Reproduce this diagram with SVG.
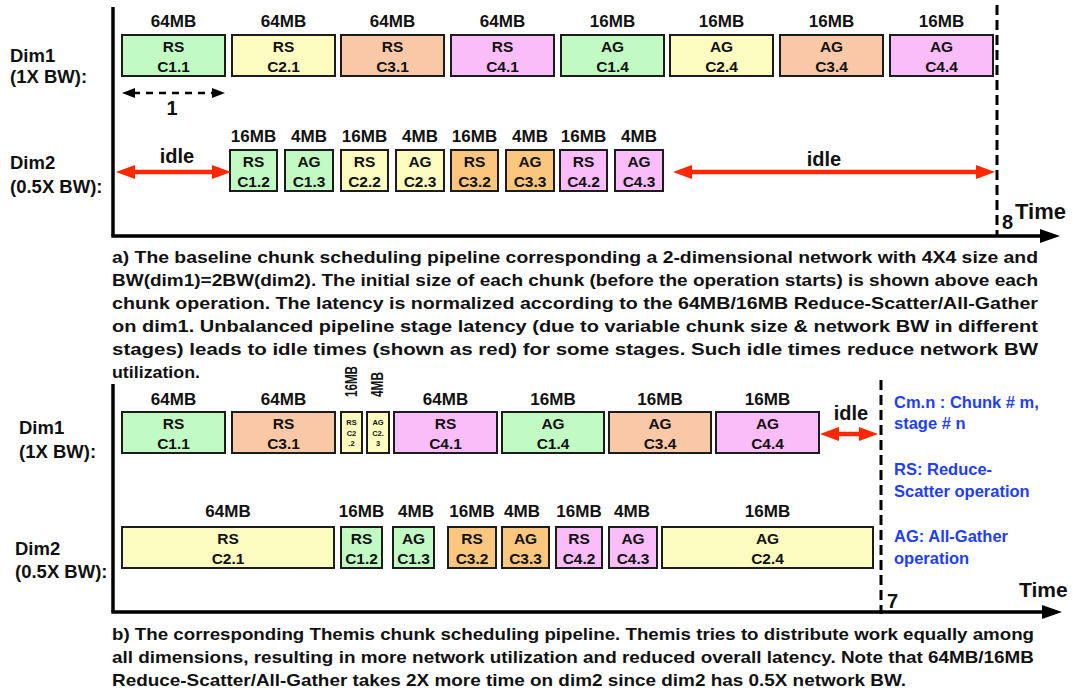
<svg xmlns="http://www.w3.org/2000/svg" width="1073" height="692" viewBox="0 0 1073 692">
<style>
text{font-family:"Liberation Sans",Arial,Helvetica,sans-serif;font-weight:bold;fill:#111}
.box{stroke:#1c1c1c;stroke-width:2}
.g{fill:#c1fac3}.y{fill:#fdfcc0}.s{fill:#f9c8a6}.p{fill:#fbbdfa}.o{fill:#fbc77f}
.lbl{font-size:15.5px;text-anchor:middle}
.sm{font-size:7.5px;text-anchor:middle}
.sz{font-size:17px;text-anchor:middle}
.dim{font-size:18.5px}
.cap{font-size:17px}
.leg{font-size:16.5px;fill:#1f3dff}
.big{font-size:20px;text-anchor:middle}
.time{font-size:22px}
.axis{stroke:#000;stroke-width:3.5;fill:none}
.dash{stroke:#000;stroke-width:3;stroke-dasharray:10 5;fill:none}
.idle{stroke:#ff2600;stroke-width:4.5;fill:none}
.unit{stroke:#000;stroke-width:2.5;stroke-dasharray:7 6;fill:none}
</style>
<defs>
<marker id="ra" markerUnits="userSpaceOnUse" markerWidth="20" markerHeight="16" viewBox="0 0 20 16" refX="8" refY="8" orient="auto-start-reverse"><path d="M0,1 L19,8 L0,15 z" fill="#ff2600"/></marker>
<marker id="ax" markerUnits="userSpaceOnUse" markerWidth="22" markerHeight="16" viewBox="0 0 22 16" refX="2" refY="8" orient="auto"><path d="M0,1 L20,8 L0,15 z" fill="#000"/></marker>
<marker id="ua" markerUnits="userSpaceOnUse" markerWidth="15" markerHeight="12" viewBox="0 0 15 12" refX="2" refY="6" orient="auto-start-reverse"><path d="M0,1 L13,6 L0,11 z" fill="#000"/></marker>
</defs>

<!-- ===== Part a ===== -->
<g id="a-axes">
<path class="axis" d="M113,7 V236"/>
<path class="axis" d="M111.3,236 H1042" marker-end="url(#ax)"/>
<path class="dash" d="M997,5 V236"/>
<text x="1002" y="229" style="font-size:20px">8</text>
<text class="time" x="1015" y="219">Time</text>
</g>
<g id="a-labels">
<text class="dim" x="10" y="62">Dim1</text>
<text class="dim" x="10" y="83">(1X BW):</text>
<text class="dim" x="10" y="169">Dim2</text>
<text class="dim" x="10" y="193">(0.5X BW):</text>
</g>

<g id="a-d1-c11"><text class="sz" x="173.5" y="27">64MB</text><rect class="box g" x="122" y="35" width="103" height="41"/><text class="lbl" x="173.5" y="52">RS</text><text class="lbl" x="173.5" y="72">C1.1</text></g>
<g id="a-d1-c21"><text class="sz" x="283.5" y="27">64MB</text><rect class="box y" x="232" y="35" width="103" height="41"/><text class="lbl" x="283.5" y="52">RS</text><text class="lbl" x="283.5" y="72">C2.1</text></g>
<g id="a-d1-c31"><text class="sz" x="392.5" y="27">64MB</text><rect class="box s" x="341" y="35" width="103" height="41"/><text class="lbl" x="392.5" y="52">RS</text><text class="lbl" x="392.5" y="72">C3.1</text></g>
<g id="a-d1-c41"><text class="sz" x="502.5" y="27">64MB</text><rect class="box p" x="451" y="35" width="103" height="41"/><text class="lbl" x="502.5" y="52">RS</text><text class="lbl" x="502.5" y="72">C4.1</text></g>
<g id="a-d1-c14"><text class="sz" x="612.5" y="27">16MB</text><rect class="box g" x="561" y="35" width="103" height="41"/><text class="lbl" x="612.5" y="52">AG</text><text class="lbl" x="612.5" y="72">C1.4</text></g>
<g id="a-d1-c24"><text class="sz" x="721.5" y="27">16MB</text><rect class="box y" x="670" y="35" width="103" height="41"/><text class="lbl" x="721.5" y="52">AG</text><text class="lbl" x="721.5" y="72">C2.4</text></g>
<g id="a-d1-c34"><text class="sz" x="831.5" y="27">16MB</text><rect class="box s" x="780" y="35" width="103" height="41"/><text class="lbl" x="831.5" y="52">AG</text><text class="lbl" x="831.5" y="72">C3.4</text></g>
<g id="a-d1-c44"><text class="sz" x="941.5" y="27">16MB</text><rect class="box p" x="890" y="35" width="103" height="41"/><text class="lbl" x="941.5" y="52">AG</text><text class="lbl" x="941.5" y="72">C4.4</text></g>

<g id="a-d2-c12"><text class="sz" x="253.5" y="142">16MB</text><rect class="box g" x="230" y="150" width="47" height="41"/><text class="lbl" x="253.5" y="167">RS</text><text class="lbl" x="253.5" y="187">C1.2</text></g>
<g id="a-d2-c13"><text class="sz" x="309" y="142">4MB</text><rect class="box g" x="285" y="150" width="48" height="41"/><text class="lbl" x="309" y="167">AG</text><text class="lbl" x="309" y="187">C1.3</text></g>
<g id="a-d2-c22"><text class="sz" x="364.5" y="142">16MB</text><rect class="box y" x="341" y="150" width="47" height="41"/><text class="lbl" x="364.5" y="167">RS</text><text class="lbl" x="364.5" y="187">C2.2</text></g>
<g id="a-d2-c23"><text class="sz" x="420" y="142">4MB</text><rect class="box y" x="396" y="150" width="48" height="41"/><text class="lbl" x="420" y="167">AG</text><text class="lbl" x="420" y="187">C2.3</text></g>
<g id="a-d2-c32"><text class="sz" x="474.5" y="142">16MB</text><rect class="box o" x="451" y="150" width="47" height="41"/><text class="lbl" x="474.5" y="167">RS</text><text class="lbl" x="474.5" y="187">C3.2</text></g>
<g id="a-d2-c33"><text class="sz" x="530" y="142">4MB</text><rect class="box o" x="506" y="150" width="48" height="41"/><text class="lbl" x="530" y="167">AG</text><text class="lbl" x="530" y="187">C3.3</text></g>
<g id="a-d2-c42"><text class="sz" x="583.5" y="142">16MB</text><rect class="box p" x="560" y="150" width="47" height="41"/><text class="lbl" x="583.5" y="167">RS</text><text class="lbl" x="583.5" y="187">C4.2</text></g>
<g id="a-d2-c43"><text class="sz" x="639" y="142">4MB</text><rect class="box p" x="615" y="150" width="48" height="41"/><text class="lbl" x="639" y="167">AG</text><text class="lbl" x="639" y="187">C4.3</text></g>

<g id="a-connectors">
<path class="unit" d="M133,93 H214" marker-start="url(#ua)" marker-end="url(#ua)"/>
<path class="idle" d="M127,172 H220" marker-start="url(#ra)" marker-end="url(#ra)"/>
<path class="idle" d="M684,172 H984" marker-start="url(#ra)" marker-end="url(#ra)"/>
</g>
<g id="a-annot">
<text class="big" x="172" y="115">1</text>
<text class="big" x="177" y="163">idle</text>
<text class="big" x="824" y="166">idle</text>
</g>

<g id="caption-a">
<text class="cap" x="112" y="263" textLength="926" lengthAdjust="spacingAndGlyphs">a)  The baseline chunk scheduling pipeline corresponding a 2-dimensional network with 4X4 size and</text>
<text class="cap" x="112" y="286" textLength="926" lengthAdjust="spacingAndGlyphs">BW(dim1)=2BW(dim2). The initial size of each chunk (before the operation starts) is shown above each</text>
<text class="cap" x="112" y="309" textLength="926" lengthAdjust="spacingAndGlyphs">chunk operation. The latency is normalized according to the 64MB/16MB Reduce-Scatter/All-Gather</text>
<text class="cap" x="112" y="332" textLength="926" lengthAdjust="spacingAndGlyphs">on dim1. Unbalanced pipeline stage latency (due to variable chunk size &amp; network BW in different</text>
<text class="cap" x="112" y="355" textLength="926" lengthAdjust="spacingAndGlyphs">stages) leads to idle times (shown as red) for some stages. Such idle times reduce network BW</text>
<text class="cap" x="112" y="378" textLength="88" lengthAdjust="spacingAndGlyphs">utilization.</text>
</g>

<!-- ===== Part b ===== -->
<g id="b-axes">
<path class="axis" d="M113,384 V612"/>
<path class="axis" d="M111.3,612 H1044" marker-end="url(#ax)"/>
<path class="dash" d="M881,380 V614"/>
<text x="887" y="608" style="font-size:20px">7</text>
<text class="time" x="1019" y="597" style="font-size:21px">Time</text>
</g>
<g id="b-labels">
<text class="dim" x="19" y="434">Dim1</text>
<text class="dim" x="19" y="458">(1X BW):</text>
<text class="dim" x="15" y="555">Dim2</text>
<text class="dim" x="15" y="578">(0.5X BW):</text>
</g>

<g id="b-d1-c11"><text class="sz" x="173.5" y="405">64MB</text><rect class="box g" x="122" y="412" width="103" height="41"/><text class="lbl" x="173.5" y="429">RS</text><text class="lbl" x="173.5" y="449">C1.1</text></g>
<g id="b-d1-c31"><text class="sz" x="283.5" y="405">64MB</text><rect class="box s" x="232" y="412" width="103" height="41"/><text class="lbl" x="283.5" y="429">RS</text><text class="lbl" x="283.5" y="449">C3.1</text></g>
<g id="b-d1-c22"><text class="sz" transform="translate(357,397) rotate(-90)" style="text-anchor:start;font-size:16px" textLength="31" lengthAdjust="spacingAndGlyphs">16MB</text><rect class="box y" x="341" y="412" width="21" height="41"/><text class="sm" x="351.5" y="425">RS</text><text class="sm" x="351.5" y="436">C2</text><text class="sm" x="351.5" y="446">.2</text></g>
<g id="b-d1-c23"><text class="sz" transform="translate(383,397) rotate(-90)" style="text-anchor:start;font-size:16px" textLength="25" lengthAdjust="spacingAndGlyphs">4MB</text><rect class="box y" x="367" y="412" width="22" height="41"/><text class="sm" x="378" y="425">AG</text><text class="sm" x="378" y="436">C2.</text><text class="sm" x="378" y="446">3</text></g>
<g id="b-d1-c41"><text class="sz" x="445.5" y="405">64MB</text><rect class="box p" x="394" y="412" width="103" height="41"/><text class="lbl" x="445.5" y="429">RS</text><text class="lbl" x="445.5" y="449">C4.1</text></g>
<g id="b-d1-c14"><text class="sz" x="553" y="405">16MB</text><rect class="box g" x="502" y="412" width="102" height="41"/><text class="lbl" x="553" y="429">AG</text><text class="lbl" x="553" y="449">C1.4</text></g>
<g id="b-d1-c34"><text class="sz" x="660" y="405">16MB</text><rect class="box s" x="609" y="412" width="102" height="41"/><text class="lbl" x="660" y="429">AG</text><text class="lbl" x="660" y="449">C3.4</text></g>
<g id="b-d1-c44"><text class="sz" x="767.5" y="405">16MB</text><rect class="box p" x="716" y="412" width="103" height="41"/><text class="lbl" x="767.5" y="429">AG</text><text class="lbl" x="767.5" y="449">C4.4</text></g>

<g id="b-d2-c21"><text class="sz" x="228" y="517">64MB</text><rect class="box y" x="122" y="527" width="212" height="41"/><text class="lbl" x="228" y="544">RS</text><text class="lbl" x="228" y="564">C2.1</text></g>
<g id="b-d2-c12"><text class="sz" x="361.5" y="517">16MB</text><rect class="box g" x="341" y="527" width="41" height="41"/><text class="lbl" x="361.5" y="544">RS</text><text class="lbl" x="361.5" y="564">C1.2</text></g>
<g id="b-d2-c13"><text class="sz" x="416" y="517">4MB</text><rect class="box g" x="393" y="527" width="41" height="41"/><text class="lbl" x="413.5" y="544">AG</text><text class="lbl" x="413.5" y="564">C1.3</text></g>
<g id="b-d2-c32"><text class="sz" x="472" y="517">16MB</text><rect class="box o" x="448" y="527" width="48" height="41"/><text class="lbl" x="472" y="544">RS</text><text class="lbl" x="472" y="564">C3.2</text></g>
<g id="b-d2-c33"><text class="sz" x="522" y="517">4MB</text><rect class="box o" x="502" y="527" width="47" height="41"/><text class="lbl" x="525.5" y="544">AG</text><text class="lbl" x="525.5" y="564">C3.3</text></g>
<g id="b-d2-c42"><text class="sz" x="579" y="517">16MB</text><rect class="box p" x="556" y="527" width="46" height="41"/><text class="lbl" x="579" y="544">RS</text><text class="lbl" x="579" y="564">C4.2</text></g>
<g id="b-d2-c43"><text class="sz" x="632" y="517">4MB</text><rect class="box p" x="609" y="527" width="48" height="41"/><text class="lbl" x="633" y="544">AG</text><text class="lbl" x="633" y="564">C4.3</text></g>
<g id="b-d2-c24"><text class="sz" x="767.5" y="517">16MB</text><rect class="box y" x="662" y="527" width="211" height="41"/><text class="lbl" x="767.5" y="544">AG</text><text class="lbl" x="767.5" y="564">C2.4</text></g>

<g id="b-connectors">
<path class="idle" d="M831,434 H867" marker-start="url(#ra)" marker-end="url(#ra)"/>
</g>
<g id="b-annot">
<text class="big" x="851" y="420">idle</text>
</g>

<g id="legend">
<text class="leg" x="894" y="408">Cm.n : Chunk # m,</text>
<text class="leg" x="894" y="429">stage # n</text>
<text class="leg" x="894" y="475">RS: Reduce-</text>
<text class="leg" x="894" y="497">Scatter operation</text>
<text class="leg" x="894" y="542">AG: All-Gather</text>
<text class="leg" x="894" y="564">operation</text>
</g>

<g id="caption-b">
<text class="cap" x="112" y="640" textLength="922" lengthAdjust="spacingAndGlyphs">b) The corresponding Themis chunk scheduling pipeline. Themis tries to distribute work equally among</text>
<text class="cap" x="112" y="663" textLength="922" lengthAdjust="spacingAndGlyphs">all dimensions, resulting in more network utilization and reduced overall latency. Note that 64MB/16MB</text>
<text class="cap" x="112" y="686" textLength="794" lengthAdjust="spacingAndGlyphs">Reduce-Scatter/All-Gather takes 2X more time on dim2 since dim2 has 0.5X network BW.</text>
</g>
</svg>
